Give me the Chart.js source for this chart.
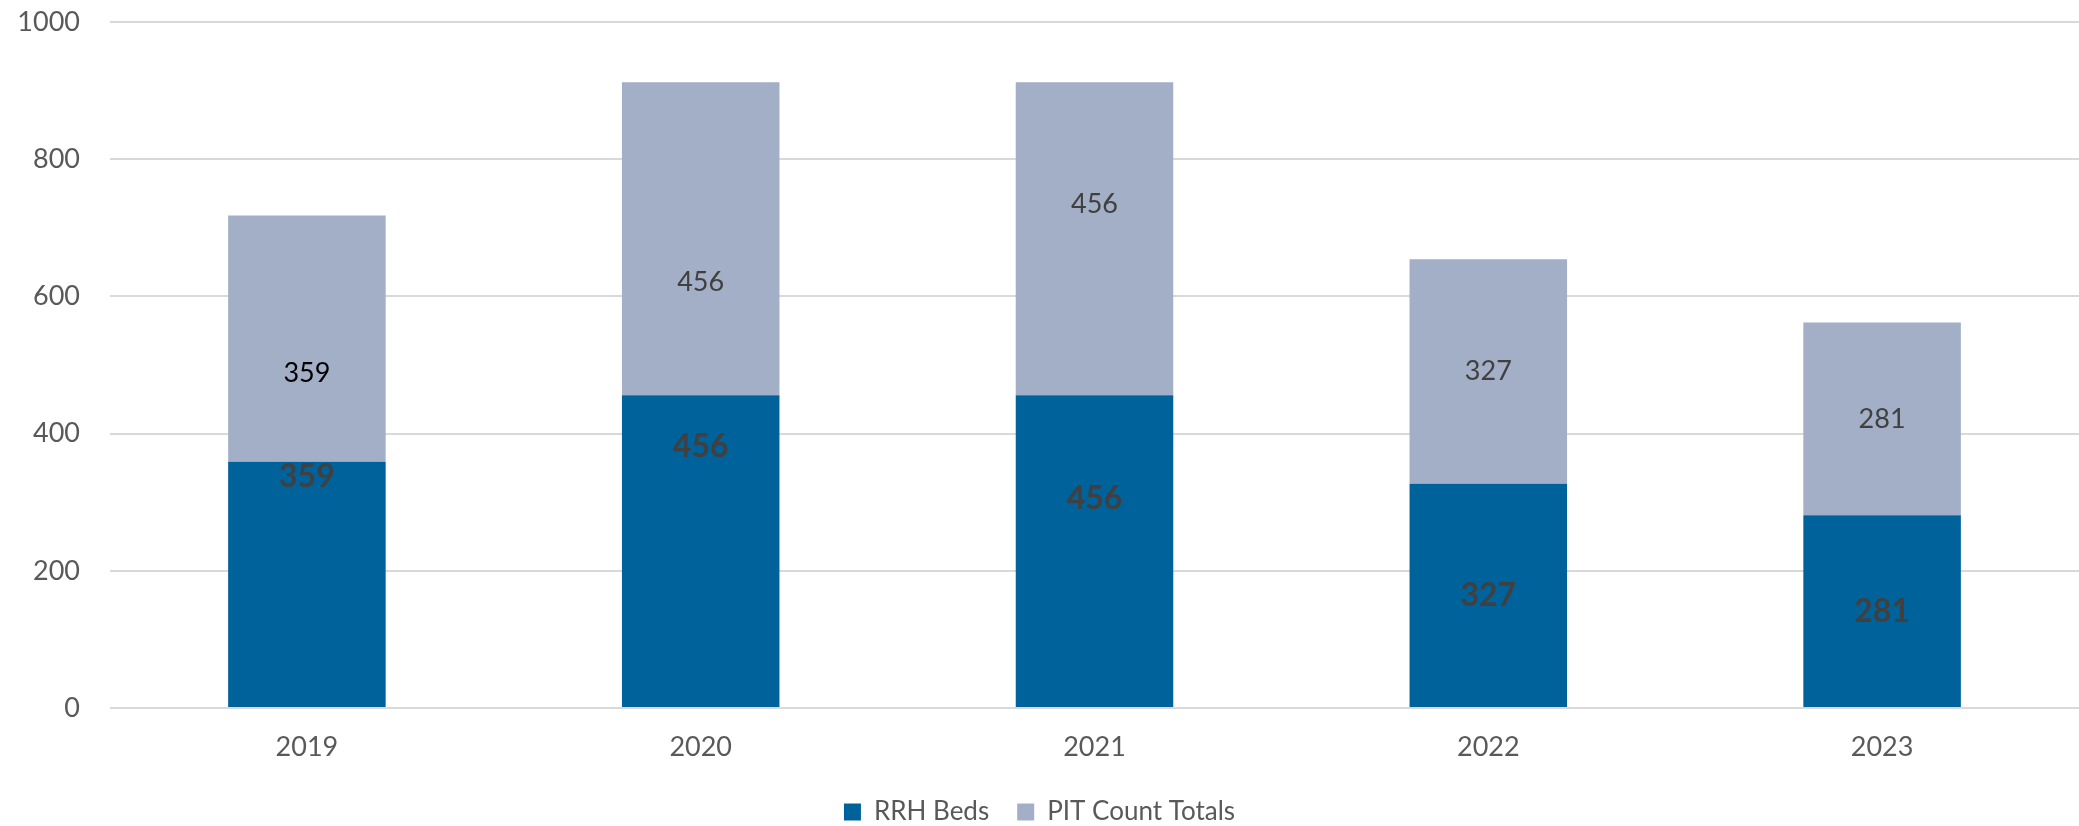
<!DOCTYPE html>
<html lang="en">
<head>
    <meta charset="UTF-8">
    <title>RRH Beds vs PIT Count Totals</title>
    <script src="https://cdn.jsdelivr.net/npm/chart.js"></script>
    <style>
        html, body { margin: 0; padding: 0; background: #fff; }
        .wrap { width: 2079px; height: 826px; }
    </style>
</head>
<body>
    <div class="wrap">
        <canvas id="pitChart" width="2079" height="826"></canvas>
    </div>

    <script>
        // Data
        const years = ['2019', '2020', '2021', '2022', '2023'];
        const rrhBeds = [359, 456, 456, 327, 281];
        const pitTotals = [359, 456, 456, 327, 281];
        const yTicks = [0, 200, 400, 600, 800, 1000];

        // where each data label sits inside its segment (0 = bottom, 1 = top)
        const rrhLabelAt = [0.94, 0.835, 0.67, 0.5, 0.5];
        const pitLabelAt = [0.36, 0.36, 0.61, 0.5, 0.5];

        const FONT = 'Lato, "Open Sans", sans-serif';

        // draws the value labels inside the stacked segments
        const segmentLabels = {
            id: 'segmentLabels',
            afterDatasetsDraw(chart) {
                const ctx = chart.ctx;
                const y = chart.scales.y;
                ctx.save();
                ctx.textAlign = 'center';
                ctx.textBaseline = 'middle';
                chart.data.datasets.forEach((ds, di) => {
                    const meta = chart.getDatasetMeta(di);
                    meta.data.forEach((bar, i) => {
                        const base = di === 0 ? 0 : rrhBeds[i];
                        const frac = di === 0 ? rrhLabelAt[i] : pitLabelAt[i];
                        const py = y.getPixelForValue(base + ds.data[i] * frac);
                        if (di === 0) {
                            ctx.font = 'bold 32px ' + FONT;
                            ctx.fillStyle = '#404040';
                        } else {
                            ctx.font = '27px ' + FONT;
                            ctx.fillStyle = i === 0 ? '#000000' : '#404040';
                        }
                        ctx.fillText(ds.data[i], bar.x, py);
                    });
                });
                ctx.restore();
            }
        };

        const ctx = document.getElementById('pitChart').getContext('2d');
        new Chart(ctx, {
            type: 'bar',
            data: {
                labels: years,
                datasets: [
                    {
                        label: 'RRH Beds',
                        data: rrhBeds,
                        backgroundColor: '#00629B',
                        categoryPercentage: 1,
                        barPercentage: 0.4
                    },
                    {
                        label: 'PIT Count Totals',
                        data: pitTotals,
                        backgroundColor: '#A2AFC6',
                        categoryPercentage: 1,
                        barPercentage: 0.4
                    }
                ]
            },
            options: {
                responsive: false,
                animation: false,
                layout: { padding: { top: 22, right: 0, left: 0, bottom: -9 } },
                plugins: {
                    tooltip: { enabled: false },
                    legend: {
                        position: 'bottom',
                        labels: {
                            color: '#595959',
                            font: { family: FONT, size: 26 },
                            boxWidth: 17,
                            boxHeight: 17,
                            padding: 28
                        }
                    }
                },
                scales: {
                    x: {
                        stacked: true,
                        afterFit(scale) {
                            scale.height = 63;
                            scale.paddingLeft = 0;
                            scale.paddingRight = 0;
                        },
                        grid: { display: false },
                        border: { display: false },
                        ticks: {
                            color: '#595959',
                            font: { family: FONT, size: 27 },
                            padding: 15
                        }
                    },
                    y: {
                        stacked: true,
                        min: 0,
                        max: 1000,
                        afterBuildTicks(scale) {
                            scale.ticks = yTicks.map(v => ({ value: v }));
                        },
                        afterFit(scale) {
                            scale.width = 110;
                            scale.paddingTop = 0;
                            scale.paddingBottom = 0;
                        },
                        grid: { color: '#D9D9D9', lineWidth: 2, drawTicks: false },
                        border: { display: false },
                        ticks: {
                            color: '#595959',
                            font: { family: FONT, size: 27 },
                            padding: 30,
                            callback: v => String(v)
                        }
                    }
                }
            },
            plugins: [segmentLabels]
        });
    </script>
</body>
</html>
